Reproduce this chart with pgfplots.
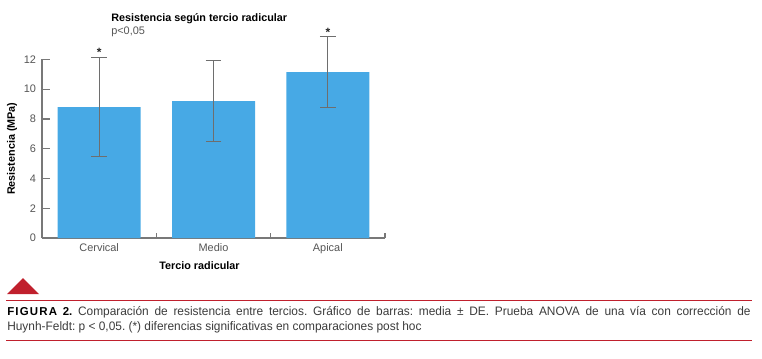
\documentclass[border=0pt]{standalone}
\usepackage{fontspec}
\setmainfont{Liberation Sans}
\newfontfamily\capfont{Liberation Sans}[FakeStretch=0.97]
\usepackage{pgfplots}
\pgfplotsset{compat=1.18}
\definecolor{barblue}{RGB}{71,169,229}
\definecolor{errgray}{RGB}{110,110,110}
\definecolor{axisgray}{RGB}{120,120,120}
\definecolor{ticktext}{RGB}{85,85,85}
\definecolor{capred}{RGB}{192,32,45}
\definecolor{captext}{RGB}{60,60,60}
\frenchspacing
\begin{document}
\begin{tikzpicture}
\useasboundingbox (0,0) rectangle (571.5pt,-268.5pt);
\begin{axis}[
  at={(31.5pt,-178.5pt)}, anchor=south west,
  scale only axis, width=257.25pt, height=133.9pt,
  xmin=-0.5, xmax=2.5, ymin=0, ymax=12,
  axis x line*=bottom, axis y line*=left,
  axis line style={draw=axisgray, line width=0.9pt},
  ytick={0,2,4,6,8,10,12},
  xtick={0,1,2}, xticklabels={Cervical,Medio,Apical},
  minor xtick={-0.5,0.5,1.5,2.5},
  major x tick style={draw=none},
  tick style={draw=axisgray, line width=0.9pt},
  major tick length=6pt, minor tick length=3.4pt,
  tick align=inside,
  /pgf/number format/assume math mode=true,
  ticklabel style={font=\fontsize{8.2}{9.6}\selectfont, text=ticktext},
  yticklabel style={xshift=-1pt},
  xticklabel style={yshift=-0.5pt},
  clip=false,
  ylabel={Resistencia (MPa)},
  xlabel={Tercio radicular},
  label style={font=\bfseries\fontsize{8.1}{9.6}\selectfont, text=black},
  ylabel style={at={(axis description cs:0,0.5)}, anchor=center, yshift=22.5pt},
  xlabel style={at={(axis description cs:0.5,0)}, anchor=center, xshift=-10.5pt, yshift=-21pt},
]
\addplot[ybar, bar width=62.25pt, fill=barblue, draw=none,
  error bars/.cd, y dir=both, y explicit,
  error bar style={draw=errgray, line width=0.8pt},
  error mark options={draw=errgray, line width=0.8pt, mark size=5.9pt, rotate=90}]
  coordinates {(0,8.80) +- (0,3.35) (1,9.20) +- (0,2.70) (2,11.15) +- (0,2.40)};
\node[font=\bfseries\fontsize{9}{9}\selectfont, inner sep=0, text=black!85] at (axis cs:0,12.45) {*};
\node[font=\bfseries\fontsize{9}{9}\selectfont, inner sep=0, text=black!85] at (axis cs:2,13.8) {*};
\end{axis}
\node[anchor=west, inner sep=0, font=\bfseries\fontsize{8.1}{9.6}\selectfont] at (83.25pt,-14.25pt) {Resistencia según tercio radicular};
\node[anchor=west, inner sep=0, font=\fontsize{8.2}{9.6}\selectfont, text=ticktext] at (83.25pt,-24pt) {p<0,05};
% caption
\fill[capred] (5.25pt,-220.5pt) -- (29.25pt,-220.5pt) -- (17.25pt,-208.5pt) -- cycle;
\draw[capred, line width=0.9pt] (4.5pt,-225.5pt) -- (564pt,-225.5pt);
\draw[capred, line width=0.9pt] (4.5pt,-255.5pt) -- (564pt,-255.5pt);
\node[anchor=north west, inner sep=0, text width=557.5pt, align=justify, text=captext,
  font=\capfont\fontsize{9.2}{11.25}\selectfont] at (5.25pt,-229.5pt)
  {{\fontspec{Liberation Sans}\bfseries\fontsize{8.6}{11.25}\selectfont\color{black}F\kern0.9pt I\kern0.9pt G\kern0.9pt U\kern0.9pt R\kern0.9pt A\ 2.} Comparación de resistencia entre tercios. Gráfico de barras: media ± DE. Prueba ANOVA de una vía con corrección de\linebreak Huynh-Feldt: p < 0,05. (*) diferencias significativas en comparaciones post hoc};
\end{tikzpicture}
\end{document}
